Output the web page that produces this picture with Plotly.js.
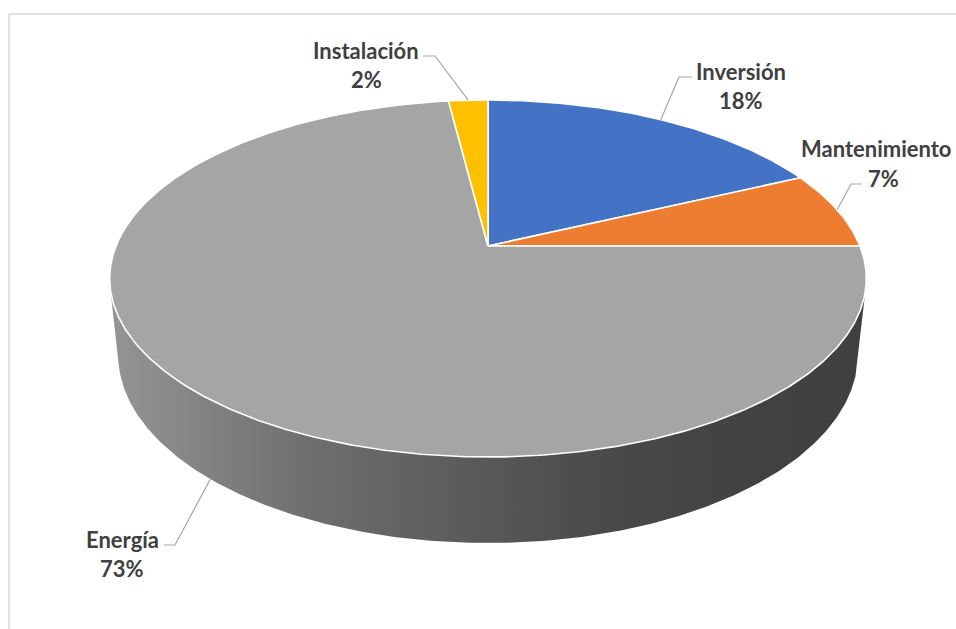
<!DOCTYPE html>
<html>
<head>
<meta charset="utf-8">
<script src="https://cdn.plot.ly/plotly-3.0.1.min.js"></script>
<style>html,body{margin:0;padding:0;background:#fff;}#chart{width:956px;height:629px;}</style>
</head>
<body>
<div id="chart"></div>
<script>
// ---- data ----
const categories = ['Inversión', 'Mantenimiento', 'Energía', 'Instalación'];
const values = [18, 7, 73, 2];
const percentLabels = ['18%', '7%', '73%', '2%'];
const colors = ['#4472C4', '#ED7D31', '#A5A5A5', '#FFC000'];

// ---- layout geometry (pixel space) ----
const W = 956, Hpx = 629;
const CX = 488, CY = 246, S = 372;          // pie centre & radius on screen
const SA = 0.464, CA = 0.886, DIST = 4.87;  // tilt and perspective
const DEPTH = 0.2335;                       // pie thickness (relative to radius)
// label placement: [nameX, nameAnchor, nameY, pctX, pctY, elbowX, textSideX, lineY, anchorOnBottom]
const labelPos = [
  [741, 'center', 71, 741, 100, 679, 692, 77, false],
  [954, 'right', 148, 883, 178, 851, 862, 184, false],
  [122, 'center', 539, 122, 568, 175, 164, 545, true],
  [366, 'center', 50, 366, 79, 435, 423, 56, false]
];

function proj(X, Y, Z) {
  const t = -Y * CA + Z * SA;
  const f = DIST / (DIST - t);
  return [CX + S * X * f, CY - S * (Y * SA + Z * CA) * f];
}
function ptAt(phiDeg, Z) {
  const p = phiDeg * Math.PI / 180;
  return proj(Math.sin(p), Math.cos(p), Z);
}

const total = values.reduce((a, b) => a + b, 0);
const traces = [];

// side wall: convex hull of top and bottom rims
let pts = [];
for (let i = 0; i < 720; i++) {
  const a = i / 2;
  pts.push(ptAt(a, 0));
  pts.push(ptAt(a, -DEPTH));
}
pts.sort((p, q) => p[0] - q[0] || p[1] - q[1]);
function cross(o, a, b) { return (a[0] - o[0]) * (b[1] - o[1]) - (a[1] - o[1]) * (b[0] - o[0]); }
const lower = [], upper = [];
for (const p of pts) { while (lower.length >= 2 && cross(lower[lower.length - 2], lower[lower.length - 1], p) <= 0) lower.pop(); lower.push(p); }
for (let i = pts.length - 1; i >= 0; i--) { const p = pts[i]; while (upper.length >= 2 && cross(upper[upper.length - 2], upper[upper.length - 1], p) <= 0) upper.pop(); upper.push(p); }
upper.pop(); lower.pop();
const hull = lower.concat(upper);
hull.push(hull[0]);
const hx = hull.map(p => p[0]), hy = hull.map(p => p[1]);
traces.push({
  type: 'scatter', mode: 'lines', x: hx, y: hy, fill: 'toself',
  line: { width: 0, color: 'rgba(0,0,0,0)' },
  fillgradient: {
    type: 'horizontal',
    start: Math.min(...hx), stop: Math.max(...hx),
    colorscale: [[0, '#959595'], [0.26, '#6f6f6f'], [0.5, '#585858'], [0.65, '#4a4a4a'], [0.8, '#434343'], [1, '#404040']]
  },
  hoverinfo: 'skip', showlegend: false
});

// top face slices
let cum = 0;
const anchors = [];
values.forEach((v, i) => {
  const a0 = cum / total * 360, a1 = (cum + v) / total * 360;
  const n = Math.max(8, Math.ceil((a1 - a0) * 2));
  const c = proj(0, 0, 0);
  const xs = [c[0]], ys = [c[1]];
  for (let k = 0; k <= n; k++) {
    const p = ptAt(a0 + (a1 - a0) * k / n, 0);
    xs.push(p[0]); ys.push(p[1]);
  }
  xs.push(c[0]); ys.push(c[1]);
  traces.push({
    type: 'scatter', mode: 'lines', x: xs, y: ys, fill: 'toself',
    fillcolor: colors[i], line: { color: '#ffffff', width: 1.6 },
    name: categories[i], hoverinfo: 'name', showlegend: false
  });
  const mid = (a0 + a1) / 2;
  anchors.push(ptAt(mid, labelPos[i][8] ? -DEPTH : 0));
  cum += v;
});

// labels and leader lines
const annotations = [], shapes = [];
const font = { family: 'Lato, "Noto Sans", sans-serif', size: 22, color: '#404040' };
categories.forEach((c, i) => {
  const L = labelPos[i];
  annotations.push({ x: L[0], y: L[2], xref: 'x', yref: 'y', text: '<b>' + c + '</b>', showarrow: false, xanchor: L[1], yanchor: 'middle', font: font });
  annotations.push({ x: L[3], y: L[4], xref: 'x', yref: 'y', text: '<b>' + percentLabels[i] + '</b>', showarrow: false, xanchor: 'center', yanchor: 'middle', font: font });
  const a = anchors[i];
  shapes.push({
    type: 'path', xref: 'x', yref: 'y',
    path: 'M' + L[6] + ',' + L[7] + ' L' + L[5] + ',' + L[7] + ' L' + a[0].toFixed(1) + ',' + a[1].toFixed(1),
    line: { color: '#a6a6a6', width: 1.2 }
  });
});
// chart-area frame (top and left edges visible in the crop)
shapes.push({ type: 'line', xref: 'x', yref: 'y', x0: 9, y0: 14, x1: W, y1: 14, line: { color: '#d9d9d9', width: 1.5 }, layer: 'below' });
shapes.push({ type: 'line', xref: 'x', yref: 'y', x0: 9, y0: 14, x1: 9, y1: Hpx, line: { color: '#d9d9d9', width: 1.5 }, layer: 'below' });

const layout = {
  width: W, height: Hpx,
  margin: { l: 0, r: 0, t: 0, b: 0 },
  paper_bgcolor: '#ffffff', plot_bgcolor: '#ffffff',
  xaxis: { range: [0, W], visible: false, fixedrange: true },
  yaxis: { range: [Hpx, 0], visible: false, fixedrange: true },
  showlegend: false,
  annotations: annotations,
  shapes: shapes
};
Plotly.newPlot('chart', traces, layout, { displayModeBar: false, staticPlot: true });
</script>
</body>
</html>
